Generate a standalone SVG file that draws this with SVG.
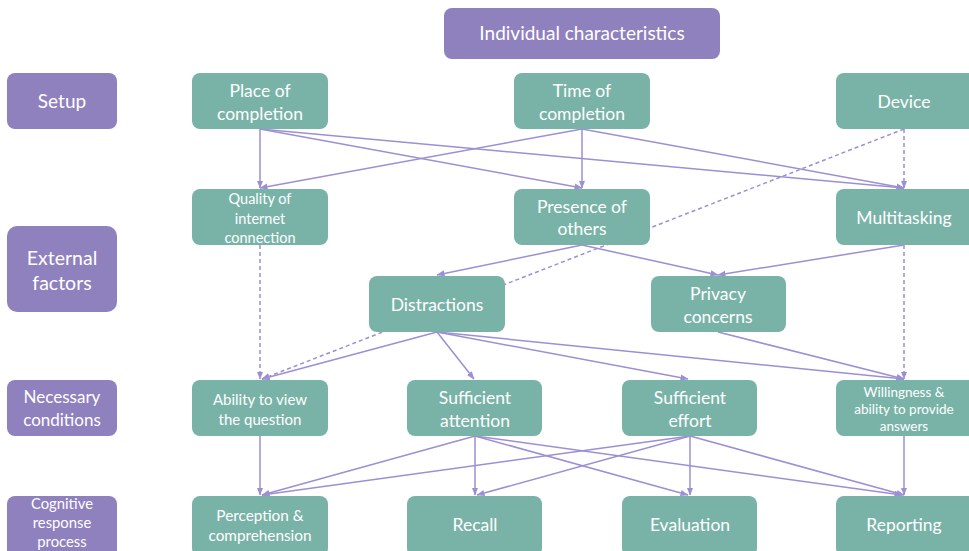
<svg xmlns="http://www.w3.org/2000/svg" width="969" height="551" viewBox="0 0 969 551">
<defs>
<marker id="ah" viewBox="0 0 8 8" refX="7.5" refY="4" markerWidth="8" markerHeight="8" markerUnits="userSpaceOnUse" orient="auto">
<path d="M0,0.8 L8,4 L0,7.2 z" fill="#9D8FD4"/>
</marker>
<style>
.cat{fill:#8F80BE}
.box{fill:#79B3A8}
.t{fill:#ffffff;font-family:Lato,"Liberation Sans",sans-serif;text-anchor:middle}
.c{stroke:#9D8FD4;stroke-width:1.5;fill:none;marker-end:url(#ah)}
.d{stroke-dasharray:4 3}
</style>
</defs>
<rect width="969" height="551" fill="#ffffff"/>
<g id="connectors">
<line class="c" x1="260" y1="129" x2="260" y2="188"/>
<line class="c" x1="260" y1="129" x2="582" y2="188"/>
<line class="c" x1="260" y1="129" x2="904" y2="188"/>
<line class="c" x1="582" y1="129" x2="260" y2="188"/>
<line class="c" x1="582" y1="129" x2="582" y2="188"/>
<line class="c" x1="582" y1="129" x2="904" y2="188"/>
<line class="c d" x1="904" y1="129" x2="904" y2="188"/>
<line class="c d" x1="904" y1="129" x2="262" y2="379"/>
<line class="c d" x1="260" y1="245" x2="260" y2="379"/>
<line class="c" x1="582" y1="245" x2="437" y2="275"/>
<line class="c" x1="582" y1="245" x2="718" y2="275"/>
<line class="c" x1="904" y1="245" x2="718" y2="275"/>
<line class="c d" x1="904" y1="245" x2="904" y2="379"/>
<line class="c" x1="437" y1="332" x2="262" y2="379"/>
<line class="c" x1="437" y1="332" x2="474" y2="379"/>
<line class="c" x1="437" y1="332" x2="688" y2="379"/>
<line class="c" x1="437" y1="332" x2="904" y2="379"/>
<line class="c" x1="718" y1="332" x2="904" y2="379"/>
<line class="c" x1="260" y1="436" x2="260" y2="495"/>
<line class="c" x1="475" y1="436" x2="262" y2="495"/>
<line class="c" x1="475" y1="436" x2="475" y2="495"/>
<line class="c" x1="475" y1="436" x2="688" y2="495"/>
<line class="c" x1="475" y1="436" x2="902" y2="495"/>
<line class="c" x1="690" y1="436" x2="262" y2="495"/>
<line class="c" x1="690" y1="436" x2="477" y2="495"/>
<line class="c" x1="690" y1="436" x2="690" y2="495"/>
<line class="c" x1="690" y1="436" x2="904" y2="495"/>
<line class="c" x1="904" y1="436" x2="904" y2="495"/>
</g>
<g id="individual-characteristics">
<rect class="cat" x="444" y="8" width="276" height="51" rx="8"/>
<text class="t" x="582" y="40" font-size="19">Individual characteristics</text>
</g>
<g id="cat-setup">
<rect class="cat" x="7" y="73" width="110" height="56" rx="8"/>
<text class="t" x="62" y="108" font-size="19">Setup</text>
</g>
<g id="cat-external">
<rect class="cat" x="7" y="226" width="110" height="86" rx="10"/>
<text class="t" x="62" y="264.5" font-size="19.5">External</text>
<text class="t" x="62" y="289.5" font-size="19.5">factors</text>
</g>
<g id="cat-necessary">
<rect class="cat" x="7" y="380" width="110" height="56" rx="8"/>
<text class="t" x="62" y="403" font-size="17">Necessary</text>
<text class="t" x="62" y="426" font-size="17">conditions</text>
</g>
<g id="cat-cognitive">
<rect class="cat" x="7" y="496" width="110" height="64" rx="8"/>
<text class="t" x="62" y="509" font-size="14.8">Cognitive</text>
<text class="t" x="62" y="528" font-size="14.8">response</text>
<text class="t" x="62" y="546.5" font-size="14.8">process</text>
</g>
<g id="place">
<rect class="box" x="192" y="73" width="136" height="56" rx="8"/>
<text class="t" x="260" y="96.5" font-size="17.5">Place of</text>
<text class="t" x="260" y="119.5" font-size="17.5">completion</text>
</g>
<g id="time">
<rect class="box" x="514" y="73" width="136" height="56" rx="8"/>
<text class="t" x="582" y="96.5" font-size="17.5">Time of</text>
<text class="t" x="582" y="119.5" font-size="17.5">completion</text>
</g>
<g id="device">
<rect class="box" x="836" y="73" width="140" height="56" rx="8"/>
<text class="t" x="904" y="107.5" font-size="17.5">Device</text>
</g>
<g id="quality">
<rect class="box" x="192" y="189" width="136" height="56" rx="8"/>
<text class="t" x="260" y="203.5" font-size="14.5">Quality of</text>
<text class="t" x="260" y="223.5" font-size="14.5">internet</text>
<text class="t" x="260" y="242.5" font-size="14.5">connection</text>
</g>
<g id="presence">
<rect class="box" x="514" y="189" width="136" height="56" rx="8"/>
<text class="t" x="582" y="212.5" font-size="17.5">Presence of</text>
<text class="t" x="582" y="234.5" font-size="17.5">others</text>
</g>
<g id="multitasking">
<rect class="box" x="836" y="189" width="140" height="56" rx="8"/>
<text class="t" x="904" y="223.5" font-size="17.5">Multitasking</text>
</g>
<g id="distractions">
<rect class="box" x="369" y="276" width="136" height="56" rx="8"/>
<text class="t" x="437" y="310.5" font-size="17.5">Distractions</text>
</g>
<g id="privacy">
<rect class="box" x="651" y="276" width="135" height="56" rx="8"/>
<text class="t" x="718" y="299.5" font-size="17.5">Privacy</text>
<text class="t" x="718" y="322.5" font-size="17.5">concerns</text>
</g>
<g id="ability">
<rect class="box" x="192" y="380" width="136" height="56" rx="8"/>
<text class="t" x="260" y="404.5" font-size="15">Ability to view</text>
<text class="t" x="260" y="424.5" font-size="15">the question</text>
</g>
<g id="attention">
<rect class="box" x="407" y="380" width="135" height="56" rx="8"/>
<text class="t" x="475" y="403.5" font-size="17.5">Sufficient</text>
<text class="t" x="475" y="426.5" font-size="17.5">attention</text>
</g>
<g id="effort">
<rect class="box" x="622" y="380" width="135" height="56" rx="8"/>
<text class="t" x="690" y="403.5" font-size="17.5">Sufficient</text>
<text class="t" x="690" y="426.5" font-size="17.5">effort</text>
</g>
<g id="willingness">
<rect class="box" x="836" y="380" width="140" height="56" rx="8"/>
<text class="t" x="904" y="396.5" font-size="13.5">Willingness &amp;</text>
<text class="t" x="904" y="414" font-size="13.5">ability to provide</text>
<text class="t" x="904" y="431" font-size="13.5">answers</text>
</g>
<g id="perception">
<rect class="box" x="192" y="496" width="136" height="60" rx="8"/>
<text class="t" x="260" y="520.5" font-size="15.3">Perception &amp;</text>
<text class="t" x="260" y="540.5" font-size="15.3">comprehension</text>
</g>
<g id="recall">
<rect class="box" x="407" y="496" width="135" height="60" rx="8"/>
<text class="t" x="475" y="530.5" font-size="17.5">Recall</text>
</g>
<g id="evaluation">
<rect class="box" x="622" y="496" width="135" height="60" rx="8"/>
<text class="t" x="690" y="530.5" font-size="17.5">Evaluation</text>
</g>
<g id="reporting">
<rect class="box" x="836" y="496" width="140" height="60" rx="8"/>
<text class="t" x="904" y="530.5" font-size="17.5">Reporting</text>
</g>
</svg>
